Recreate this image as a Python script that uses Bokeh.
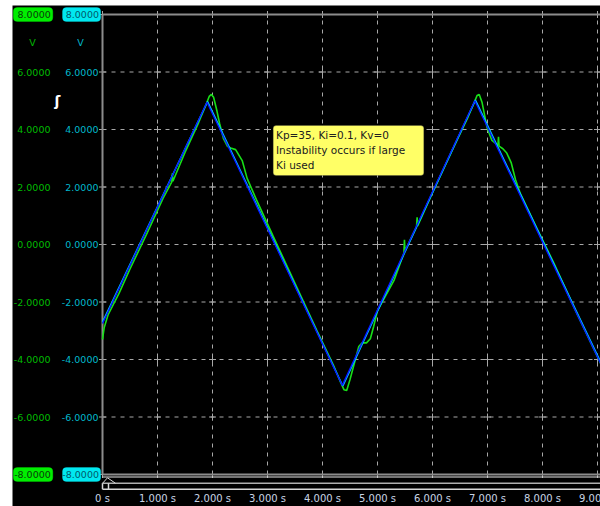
from bokeh.plotting import figure
from bokeh.models import Label, BoxAnnotation, Range1d
from bokeh.core.properties import value
from bokeh.embed import file_html
from bokeh.resources import INLINE

# ---- data -------------------------------------------------------------
# reference trajectory (triangle vertices), blue trace
ref_t = [0.00, 1.90, 4.36, 6.77, 9.06]
ref_v = [-2.75, 4.95, -4.90, 5.00, -4.15]

# commanded position, cyan trace
cmd_t = [0.00, 1.91, 4.37, 6.78, 9.06]
cmd_v = [-2.70, 4.97, -4.92, 5.02, -4.10]

# measured response, green trace
act_t = [0.00, 0.03, 0.10, 0.30, 0.50, 0.80, 1.10, 1.26, 1.27, 1.28, 1.50, 1.75,
         1.88, 1.94, 1.98, 2.02, 2.08, 2.13, 2.20, 2.27, 2.33, 2.42, 2.54, 2.63,
         2.80, 3.10, 3.50, 3.90, 4.20, 4.33, 4.39, 4.44, 4.50, 4.60, 4.66, 4.72,
         4.80, 4.87, 4.93, 5.00, 5.30, 5.48, 5.49, 5.50, 5.71, 5.72, 5.73, 6.00,
         6.40, 6.65, 6.76, 6.81, 6.85, 6.90, 6.99, 7.08, 7.19, 7.20, 7.21, 7.28,
         7.35, 7.43, 7.51, 7.60, 7.90, 8.20, 8.60, 9.06]
act_v = [-3.30, -2.90, -2.45, -1.70, -0.85, 0.35, 1.60, 2.18, 2.48, 2.20, 3.20, 4.25,
         4.85, 5.15, 5.22, 5.12, 4.65, 4.20, 3.68, 3.42, 3.36, 3.30, 2.92, 2.30,
         1.55, 0.30, -1.35, -3.00, -4.20, -4.80, -5.05, -5.08, -4.70, -3.98, -3.55, -3.42,
         -3.42, -3.28, -2.85, -2.30, -1.25, -0.30, 0.16, -0.22, 0.62, 0.95, 0.65, 1.80,
         3.45, 4.45, 4.95, 5.18, 5.22, 4.95, 4.08, 3.62, 3.45, 3.75, 3.42, 3.33,
         3.18, 2.85, 2.25, 1.76, 0.55, -0.62, -2.30, -4.15]

x_ticks = [0, 1, 2, 3, 4, 5, 6, 7, 8, 9]
x_tick_labels = ["0 s", "1.000 s", "2.000 s", "3.000 s", "4.000 s",
                 "5.000 s", "6.000 s", "7.000 s", "8.000 s", "9.000 s"]
y_ticks = [-6, -4, -2, 0, 2, 4, 6]
y_min, y_max = -8, 8
unit = "V"

note_text = "Kp=35, Ki=0.1, Kv=0\nInstability occurs if large\nKi used"

# ---- scales -----------------------------------------------------------
# the scope window: 55 px per second, 28.75 px per volt,
# t = 0 sits 90 px from the left edge, 0 V sits 239 px below the top edge
PX_X = 55.0
PX_Y = 28.75
W, H = 588, 501
X0_PX, Y0_PX = 90.0, 239.0


def tx(px):
    """horizontal offset (from the canvas left) -> seconds"""
    return (px - X0_PX) / PX_X


def vy(py):
    """vertical offset (from the canvas top) -> volts"""
    return (Y0_PX - py) / PX_Y


GRID = "#a8a8a8"
BORDER = "#8c8c8c"
GREEN_TXT = "#00bc00"
CYAN_TXT = "#00b8cc"
FONT = "DejaVu Sans"
TICK_SIZE = "9.5px"

p = figure(width=W, height=H,
           x_range=Range1d(tx(0), tx(W)), y_range=Range1d(vy(H), vy(0)),
           x_axis_type=None, y_axis_type=None,
           output_backend="svg", toolbar_location=None,
           min_border_left=0, min_border_right=0,
           min_border_top=0, min_border_bottom=0,
           background_fill_color="black", border_fill_color="black",
           outline_line_color=None)
p.margin = (5, 0, 0, 12)
p.xgrid.visible = False
p.ygrid.visible = False

x_end = tx(W)

# ---- dashed grid with crosses at intersections -------------------------
vx = [t for t in x_ticks if t > 0]
p.segment(x0=vx, y0=[y_min] * len(vx), x1=vx, y1=[y_max] * len(vx),
          line_color=GRID, line_width=1, line_dash="4 5")
p.segment(x0=[0] * len(y_ticks), y0=y_ticks, x1=[x_end] * len(y_ticks), y1=y_ticks,
          line_color=GRID, line_width=1, line_dash="4 5")
levels = y_ticks + [y_min, y_max]
cx = [t for t in x_ticks for _ in levels]
cy = [v for _ in x_ticks for v in levels]
p.scatter(cx, cy, marker="cross", size=7, line_color=GRID, line_width=1)

# frame borders
p.segment(x0=[0, 0, 0], y0=[y_max, y_min, y_min], x1=[x_end, x_end, 0], y1=[y_max, y_min, y_max],
          line_color=BORDER, line_width=2)

# time scroll bar under the plot
sb1 = y_min - 2.5 / PX_Y
sb2 = y_min - 8.8 / PX_Y
sb3 = y_min - 14.7 / PX_Y
p.segment(x0=[0, 0, 0], y0=[sb1, sb2, sb3], x1=[x_end] * 3, y1=[sb1, sb2, sb3],
          line_color=["#e8e8e8", "#b0b0b0", "#d8d8d8"], line_width=[1, 1.5, 1.5])
p.segment(x0=[0, 6 / PX_X], y0=[sb2, sb2], x1=[0, 6 / PX_X], y1=[sb3, sb3],
          line_color="#d8d8d8", line_width=1.5)
p.line([0, 5 / PX_X, 13 / PX_X], [sb2, y_min - 3.3 / PX_Y, sb2],
       line_color="#d8d8d8", line_width=1)

# ---- traces -----------------------------------------------------------
p.line(act_t, act_v, line_color="#18e018", line_width=1.6)
p.line(cmd_t, cmd_v, line_color="#00d8ff", line_width=1.5)
p.line(ref_t, ref_v, line_color="#0818ff", line_width=1.4)

# ---- scale labels -------------------------------------------------------
tick_txt = ["%.4f" % v for v in y_ticks]
p.text(x=[tx(38)] * len(y_ticks), y=y_ticks, text=tick_txt,
       text_font=value(FONT), text_font_size=TICK_SIZE, text_color=GREEN_TXT,
       text_align="right", text_baseline="middle")
p.text(x=[tx(86)] * len(y_ticks), y=y_ticks, text=tick_txt,
       text_font=value(FONT), text_font_size=TICK_SIZE, text_color=CYAN_TXT,
       text_align="right", text_baseline="middle")
p.text(x=x_ticks, y=[vy(493)] * len(x_ticks), text=x_tick_labels,
       text_font=value(FONT), text_font_size="10px", text_color="#c8d4e4",
       text_align="center", text_baseline="middle")

# boxed full-scale values: rounded badge behind the value text
for val in (y_max, y_min):
    s = "%.4f" % val
    for (bl, br, txt_x, fill, ink) in ((0.8, 40.3, 38.3, "#00ee00", "#0a3a0a"),
                                      (50.0, 88.2, 86.5, "#00e8f0", "#005a6a")):
        p.add_layout(BoxAnnotation(left=tx(bl), right=tx(br),
                                   top=val + 7 / PX_Y, bottom=val - 7 / PX_Y,
                                   fill_color=fill, fill_alpha=1,
                                   line_color=fill, line_width=1, border_radius=4))
        p.add_layout(Label(x=tx(txt_x), y=val, text=s, text_font=FONT,
                           text_font_size=TICK_SIZE, text_color=ink,
                           text_align="right", text_baseline="middle"))

# unit captions and the integrator mark
p.add_layout(Label(x=tx(20), y=vy(37), text=unit, text_font=FONT, text_font_size=TICK_SIZE,
                   text_color=GREEN_TXT, text_align="center", text_baseline="middle"))
p.add_layout(Label(x=tx(68), y=vy(37), text=unit, text_font=FONT, text_font_size=TICK_SIZE,
                   text_color=CYAN_TXT, text_align="center", text_baseline="middle"))
p.add_layout(Label(x=tx(45), y=vy(95), text="ʃ", text_font=FONT, text_font_size="14px",
                   text_font_style="bold", text_color="white",
                   text_align="center", text_baseline="middle"))

# ---- note box ---------------------------------------------------------
p.add_layout(BoxAnnotation(left=tx(260.7), right=tx(411.3), top=vy(120), bottom=vy(170),
                           fill_color="#ffff66", fill_alpha=1,
                           line_color="#404040", line_width=1, border_radius=3))
p.add_layout(Label(x=tx(263.5), y=vy(123.5), text=note_text,
                   text_font=FONT, text_font_size="10.5px", text_color="#202020",
                   text_align="left", text_baseline="top", text_line_height=1.25))

open("out.html", "w").write(file_html(p, INLINE))
